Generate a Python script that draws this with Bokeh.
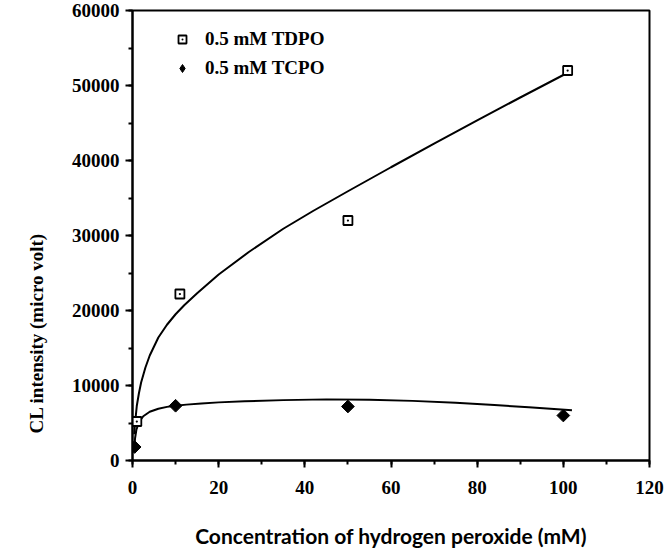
from bokeh.plotting import figure
from bokeh.models import (Range1d, SingleIntervalTicker, Title, Legend, LegendItem,
                          BasicTickFormatter)
from bokeh.embed import file_html
from bokeh.resources import INLINE
import math

# ---- data ----
tdpo_x = [1, 11, 50, 101]
tdpo_y = [5200, 22200, 32000, 52000]
tcpo_x = [0.5, 10, 50, 100]
tcpo_y = [1800, 7300, 7200, 6000]

# fitted trend curves
tdpo_fit_x = [0.4, 0.6, 1, 1.5, 2, 3, 4, 6, 8, 10, 12, 15, 20, 27, 35, 42, 50, 60, 70, 80, 90, 101]
tdpo_fit_y = [3500, 5000, 7300, 9000, 10400, 12400, 14000, 16400, 18100, 19500, 20700, 22300,
              24800, 27800, 30900, 33300, 35900, 39100, 42250, 45350, 48400, 51700]
tcpo_fit_x = [0.4, 0.6, 0.9, 1.5, 2.5, 4, 6, 8, 10, 12.5, 16, 20, 26, 35, 45, 55, 65, 75, 84, 92, 102]
tcpo_fit_y = [1600, 3000, 4100, 5100, 5900, 6500, 6900, 7150, 7300, 7450, 7600, 7750, 7900,
              8050, 8150, 8100, 7950, 7700, 7400, 7100, 6700]

series_names = ["0.5 mM TDPO", "0.5 mM TCPO"]
x_title = "Concentration of hydrogen peroxide (mM)"
y_title = "CL intensity (micro volt)"

SERIF = "Liberation Serif"

p = figure(width=665, height=553, output_backend="svg", toolbar_location=None,
           x_range=Range1d(0, 120), y_range=Range1d(0, 60000),
           min_border_left=132, min_border_right=16, min_border_top=10, min_border_bottom=93)
p.background_fill_color = "white"
p.border_fill_color = "white"
p.outline_line_color = "black"
p.outline_line_width = 2
p.grid.visible = False

p.xaxis.ticker = SingleIntervalTicker(interval=20, num_minor_ticks=2)
p.yaxis.ticker = SingleIntervalTicker(interval=10000, num_minor_ticks=2)
p.yaxis.formatter = BasicTickFormatter(use_scientific=False)
for ax in (p.xaxis, p.yaxis):
    ax.axis_line_width = 2
    ax.axis_line_color = "black"
    ax.major_tick_line_width = 2
    ax.minor_tick_line_width = 2
    ax.major_tick_in = 0
    ax.major_tick_out = 7
    ax.minor_tick_in = 0
    ax.minor_tick_out = 4
    ax.major_label_text_font = SERIF
    ax.major_label_text_font_style = "bold"
    ax.major_label_text_font_size = "19px"
    ax.major_label_text_color = "#000000"
p.xaxis.major_label_standoff = 13
p.yaxis.major_label_standoff = 6

p.xaxis.axis_label = x_title
p.xaxis.axis_label_text_font = "Lato"
p.xaxis.axis_label_text_font_style = "bold"
p.xaxis.axis_label_text_font_size = "21px"
p.xaxis.axis_label_text_color = "#000000"
p.xaxis.axis_label_standoff = 26

# curves
p.line(tdpo_fit_x, tdpo_fit_y, line_color="black", line_width=2)
p.line(tcpo_fit_x, tcpo_fit_y, line_color="black", line_width=2)

# points
r1 = p.scatter(tdpo_x, tdpo_y, marker="square_dot", size=9, fill_color="white",
               line_color="black", line_width=1.8)
r2 = p.scatter(tcpo_x, tcpo_y, marker="square", angle=math.pi / 4, size=9,
               fill_color="black", line_color="black")
# hidden twin used only as the legend swatch (diamond shape)
r2_key = p.scatter(tcpo_x, tcpo_y, marker="diamond", size=14, fill_color="black",
                   line_color="black", visible=False)

legend = Legend(items=[LegendItem(label=series_names[0], renderers=[r1]),
                       LegendItem(label=series_names[1], renderers=[r2_key])],
                location=(40, 381), padding=0, spacing=7, glyph_width=20, glyph_height=20,
                label_height=20, label_standoff=13, border_line_color=None,
                background_fill_alpha=0, inactive_fill_alpha=0,
                label_text_font=SERIF, label_text_font_style="bold",
                label_text_font_size="19px", label_text_color="#000000")
p.add_layout(legend)

# y-axis title
p.add_layout(Title(text=y_title, align="left", offset=27, standoff=40, vertical_align="top",
                   text_font=SERIF, text_font_style="bold",
                   text_font_size="19px", text_color="#000000"), "left")

open("out.html", "w").write(file_html(p, INLINE))
